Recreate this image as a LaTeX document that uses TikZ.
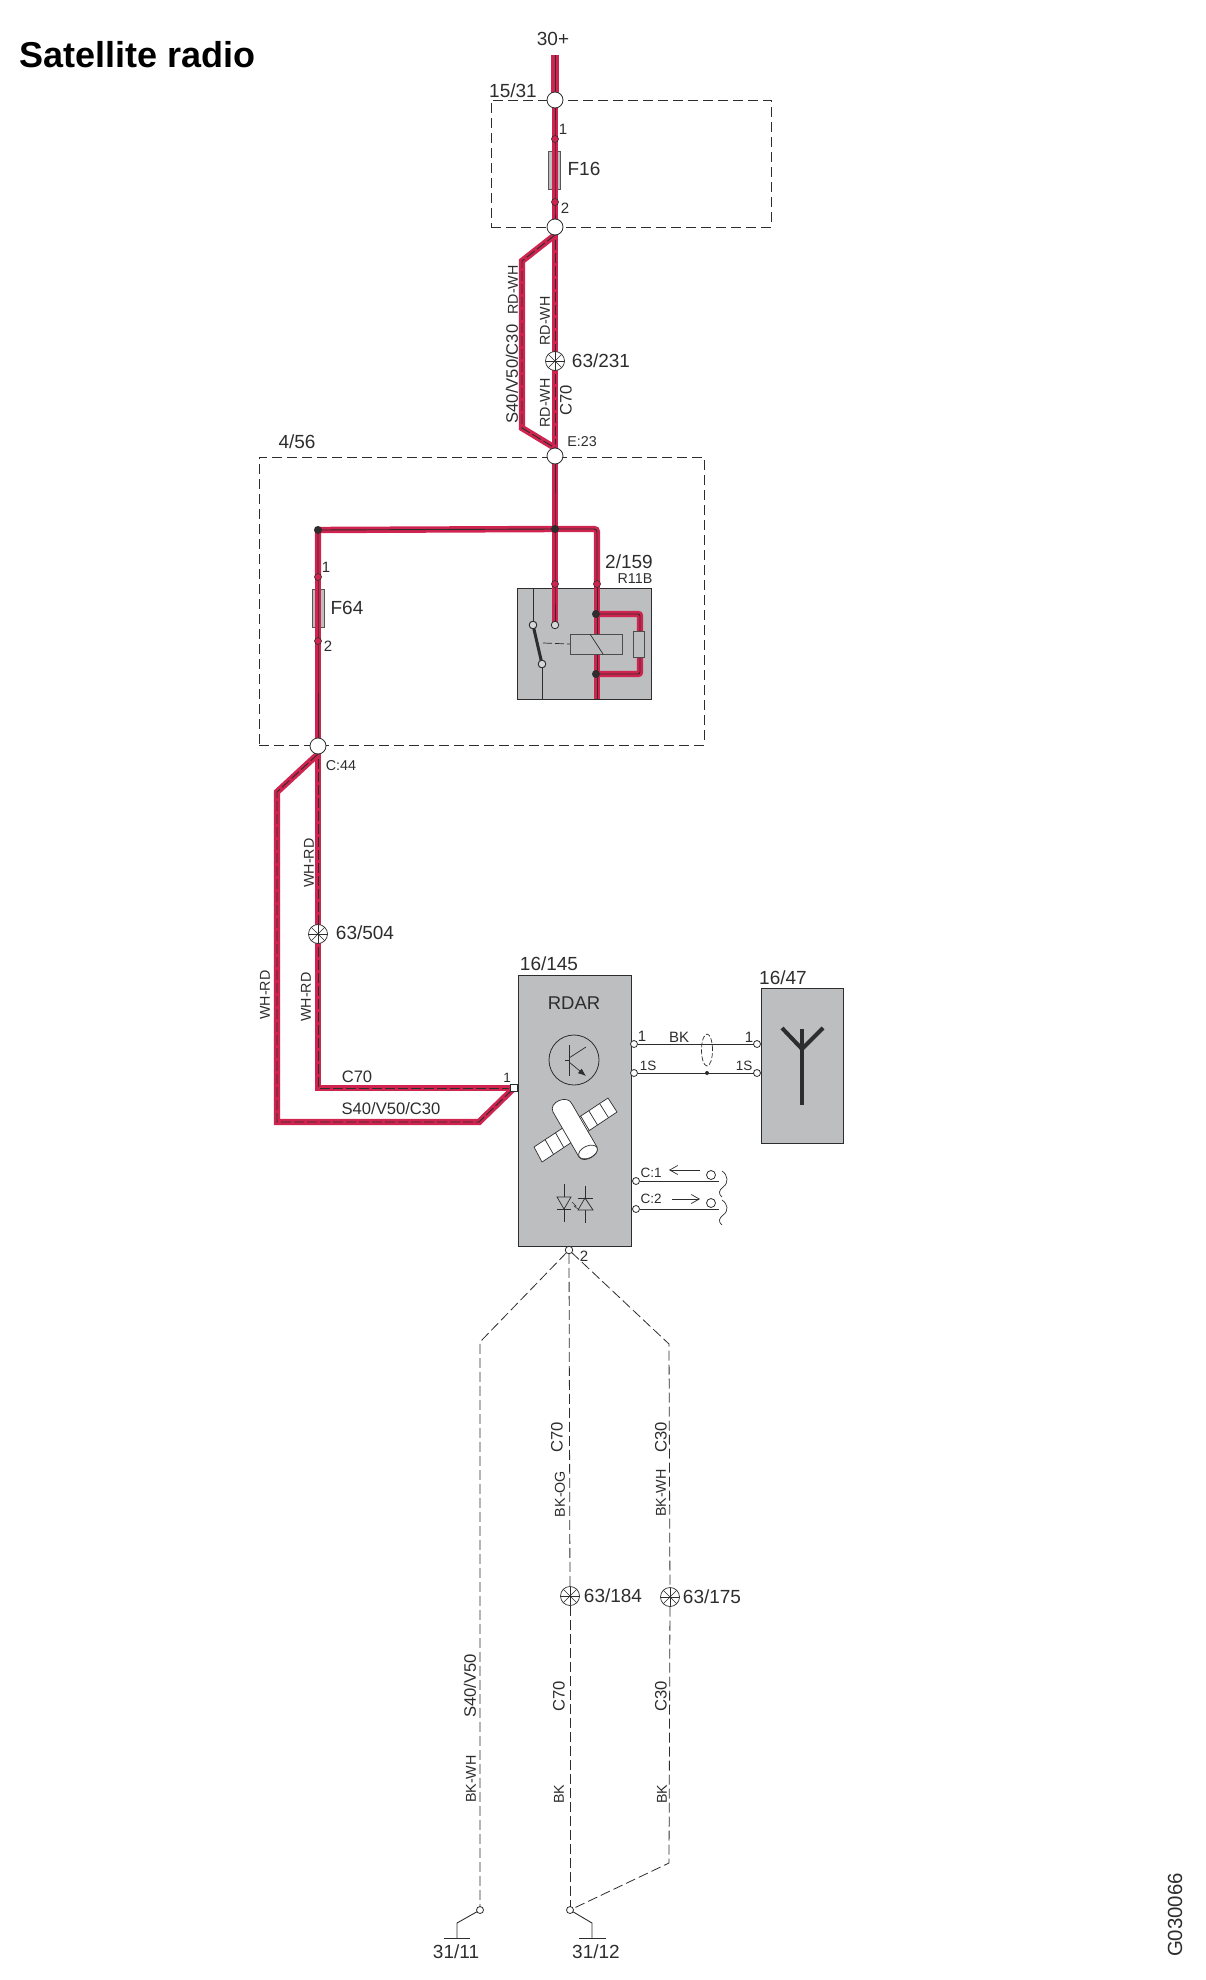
\documentclass[tikz,border=0pt]{standalone}
\usepackage{fontspec}
\setmainfont{Liberation Sans}
\usetikzlibrary{arrows.meta,shapes.geometric}
\definecolor{wirered}{RGB}{208,36,80}
\definecolor{ink}{RGB}{45,45,45}
\definecolor{boxgray}{RGB}{189,190,192}
\pgfdeclarelayer{bg}\pgfdeclarelayer{mid}
\pgfsetlayers{bg,mid,main}
\tikzset{
  every node/.style={inner sep=0pt,outer sep=0pt,text=ink},
  big/.style={font=\fontsize{19}{19}\selectfont},
  small/.style={font=\fontsize{14.3}{14}\selectfont},
  mid/.style={font=\fontsize{16.6}{17}\selectfont},
  pinlbl/.style={font=\fontsize{13.5}{14}\selectfont},
  pindig/.style={font=\fontsize{15}{15}\selectfont},
  dashbox/.style={draw=ink,line width=0.8pt,dash pattern=on 10pt off 5pt,rectangle},
  graybox/.style={draw=ink,line width=0.9pt,fill=boxgray,rectangle},
  fuse/.style={draw=ink!80,line width=0.8pt,fill=boxgray,rectangle,minimum width=12pt,minimum height=38pt},
  conn/.style={circle,draw=ink,line width=0.8pt,fill=white,minimum size=16pt},
  redpin/.style={circle,draw=ink,line width=0.6pt,fill=wirered,minimum size=7pt},
  opin/.style={circle,draw=ink,line width=0.8pt,fill=white,minimum size=7pt},
  relpin/.style={circle,draw=ink,line width=0.8pt,fill=boxgray!60,minimum size=7.5pt},
  junc/.style={circle,fill=ink,minimum size=8pt},
  sqpin/.style={rectangle,draw=ink,line width=0.6pt,fill=white,minimum size=7pt},
  splice/.style={circle,draw=ink,line width=0.7pt,fill=white,minimum size=19pt,path picture={
    \foreach \a in {0,45,90,135}
      \draw[ink,line width=0.55pt] (path picture bounding box.center) ++(\a:10pt) -- ++(\a+180:20pt);}},
  redsolid/.style={draw=ink,line width=0.9pt,line join=miter,preaction={draw=wirered,line width=6.4pt,solid}},
  redtop/.style={draw=ink,line width=0.9pt,preaction={draw=wirered,line width=7.2pt,solid}},
  reddash/.style={draw=ink,line width=0.9pt,line join=miter,dash pattern=on 10pt off 3pt,preaction={draw=wirered,line width=6.4pt,solid}},
  thin/.style={draw=ink,line width=0.9pt},
  gnddash/.style={draw=ink,line width=0.8pt,dash pattern=on 10pt off 4pt},
  sym/.style={draw=ink,line width=0.7pt},
}
\begin{document}
\begin{tikzpicture}[x=1pt,y=-1pt]
\useasboundingbox (0,0) rectangle (1206,1980);
% title
\node[font=\fontsize{36}{36}\selectfont\bfseries,anchor=west,text=black] (title) at (19,55) {Satellite radio};
\node[font=\fontsize{20.4}{20}\selectfont,rotate=90] (gcode) at (1175,1915) {G030066};

% ---------- boxes
\begin{pgfonlayer}{bg}
\node[dashbox,minimum width=280pt,minimum height=127pt] (box1531) at (631,163.5) {};
\node[dashbox,minimum width=445pt,minimum height=288pt] (box456) at (481.5,601) {};
\node[graybox,minimum width=134pt,minimum height=111pt] (relay) at (584,643.5) {};
\node[graybox,minimum width=113pt,minimum height=271pt] (rdar) at (574.5,1110.5) {};
\node[graybox,minimum width=82pt,minimum height=155pt] (ant) at (802,1065.5) {};
\node[fuse] (f16) at (554.5,170) {};
\node[fuse] (f64) at (318,608.5) {};
\end{pgfonlayer}

% ---------- connection points
\coordinate (top) at (555,55);
\node[conn] (c1531) at (555,100) {};
\node[conn] (c1531b) at (555,227) {};
\node[conn] (e23) at (555,456) {};
\node[conn] (c44) at (318,746) {};
\node[redpin] (p1a) at (555,139) {};
\node[redpin] (p1b) at (555,202) {};
\node[redpin] (p2a) at (318,577) {};
\node[redpin] (p2b) at (318,641) {};
\node[redpin] (p3a) at (555,584) {};
\node[redpin] (p3b) at (597,584) {};
\node[junc] (jL) at (318,530) {};
\node[junc] (jM) at (555,529) {};
\node[junc] (j1) at (596,614) {};
\node[junc] (j2) at (596,674) {};
\node[splice] (s231) at (555,361) {};
\node[splice] (s504) at (318,934) {};
\node[splice] (s184) at (570,1596) {};
\node[splice] (s175) at (670,1597) {};
\node[sqpin] (pin1) at (514,1088) {};
\coordinate (a1) at (522,261);
\coordinate (a2) at (522,428);
\coordinate (b1) at (277,792);
\coordinate (b2) at (277,1122);
\coordinate (b3) at (479,1122);
\coordinate (m1) at (318,1088);
\coordinate (rc) at (597,529);
\coordinate (rb) at (597,699);
\coordinate (l1) at (640,614);
\coordinate (l2) at (640,674);

% ---------- red wires
\begin{pgfonlayer}{mid}
\draw[redtop] (top) -- (c1531.center);
\draw[redsolid] (c1531.center) -- (p1a.center) -- (p1b.center) -- (c1531b.center);
\draw[reddash] (c1531b.center) -- (s231.center);
\draw[reddash] (s231.center) -- (e23.center);
\draw[reddash] (c1531b.south) -- (a1) -- (a2) -- (e23.north);
\draw[redsolid] (e23.center) -- (jM.center) -- (p3a.center) -- (555,625);
\draw[redsolid] (p2a.center) -- (jL.center) -- (jM.center);
\draw[redsolid,rounded corners=3pt] (jM.center) -- (rc) -- (p3b.center);
\draw[redsolid] (p3b.center) -- (rb);
\draw[redsolid] (p2a.center) -- (p2b.center) -- (c44.center);
\draw[redsolid,rounded corners=2pt] (j1.center) -- (l1) -- (l2) -- (j2.center);
\draw[reddash] (c44.center) -- (s504.center);
\draw[reddash] (s504.center) -- (m1) -- (pin1.center);
\draw[reddash] (c44.south) -- (b1) -- (b2) -- (b3) -- (pin1.center);
\end{pgfonlayer}

% ---------- labels upper part
\node[big] (l30) at (553,39) {30+};
\node[big] (l1531) at (513,91) {15/31};
\node[pindig] (lp1) at (563,129) {1};
\node[pindig] (lp2) at (565,208) {2};
\node[big] (lf16) at (584,169) {F16};
\node[small,rotate=90] (w1) at (513,290) {RD-WH};
\node[mid,rotate=90] (w2) at (512,374) {S40/V50/C30};
\node[small,rotate=90] (w3) at (545,321) {RD-WH};
\node[small,rotate=90] (w4) at (545,403) {RD-WH};
\node[mid,rotate=90] (w5) at (566,400) {C70};
\node[big] (l231) at (601,361) {63/231};
\node[small] (le23) at (582,442) {E:23};
\node[big] (l456) at (297,442) {4/56};
\node[pindig] (lp3) at (326,567) {1};
\node[pindig] (lp4) at (328,646) {2};
\node[big] (lf64) at (347,608) {F64};
\node[big] (l2159) at (629,562) {2/159};
\node[small] (lr11) at (635,579) {R11B};
\node[small] (lc44) at (341,766) {C:44};

% ---------- relay interior
\node[relpin] (r1) at (533,625) {};
\node[relpin] (r2) at (555,625) {};
\node[relpin] (r3) at (542,664) {};
\coordinate (r1t) at (533,588);
\coordinate (r3b) at (542,699);
\draw[sym] (r1t) -- (r1.north);
\draw[sym] (r3.south) -- (r3b);
\draw[ink,line width=3pt] (r1.center) -- (r3.center);
\node[relpin] at (r1) {};
\node[relpin] at (r3) {};
\node[rectangle,draw=ink!85,line width=0.9pt,fill=boxgray,minimum width=52pt,minimum height=20pt] (coil) at (596,644) {};
\draw[sym] (590,634) -- (603,654);
\draw[sym,dash pattern=on 9pt off 3pt] (543,643) -- (coil.west);
\node[rectangle,draw=ink!85,line width=0.8pt,fill=boxgray,minimum width=11pt,minimum height=26pt] (res) at (638.5,644) {};

% ---------- lower-left labels
\node[small,rotate=90] (w6) at (309,863) {WH-RD};
\node[small,rotate=90] (w7) at (306,997) {WH-RD};
\node[small,rotate=90] (w8) at (265,995) {WH-RD};
\node[big] (l504) at (365,933) {63/504};
\node[mid] (l70) at (357,1077) {C70};
\node[mid] (l40) at (391,1109) {S40/V50/C30};
\node[pinlbl] (lpin1) at (507,1078) {1};

% ---------- RDAR
\node[big] (l145) at (549,964) {16/145};
\node[big] (l47) at (783,978) {16/47};
\node[font=\fontsize{18.5}{19}\selectfont] (lrd) at (574,1003) {RDAR};
% transistor
\node[circle,draw=ink,line width=0.8pt,minimum size=50pt] (tr) at (574,1060) {};
\draw[sym] (569,1045) -- (569,1076);
\draw[sym] (565,1060) -- (569,1060);
\draw[sym] (569,1058) -- (586,1047);
\draw[sym,-{Latex[length=8pt,width=6pt]}] (569,1062) -- (586,1076);
% satellite
\draw[sym,fill=white,line join=round] (534,1147) -- (542,1162) -- (617,1112) -- (608,1098) -- cycle;
\draw[sym] (545,1139.5) -- (553.5,1154.4) (555.5,1132.8) -- (563.8,1147.5)
  (588.8,1110.7) -- (597.5,1125) (599.6,1103.5) -- (608.5,1117.6) (580.6,1116) -- (589.3,1130.5);
\draw[sym,fill=white] (553,1112) .. controls (548,1102) and (568,1094) .. (572,1104) -- (597,1147)
  .. controls (600,1155) and (584,1164) .. (579,1157) -- cycle;
\draw[sym,fill=white] (588,1152) ellipse [x radius=10pt,y radius=6pt,rotate=25];
% opto
\draw[sym] (564,1184) -- (564,1222) (585,1186) -- (585,1223);
\draw[sym,fill=boxgray] (557,1197) -- (571,1197) -- (564,1209) -- cycle;
\draw[sym] (557,1209) -- (571,1209);
\draw[sym,fill=boxgray] (578,1210) -- (593,1210) -- (585,1198) -- cycle;
\draw[sym] (578,1198) -- (593,1198);
\draw[sym,line width=0.5pt] (572,1202) -- (576,1206) -- (574,1206) -- (578,1209);
% right pins
\node[opin] (o1) at (634,1044) {};
\node[opin] (o2) at (634,1073) {};
\node[opin] (o3) at (757,1044) {};
\node[opin] (o4) at (757,1073) {};
\node[opin] (o5) at (636,1181) {};
\node[opin] (o6) at (636,1209) {};
\coordinate (c1e) at (719,1181);
\coordinate (c2e) at (719,1209);
\draw[thin] (o1) -- (o3);
\draw[thin] (o2) -- (o4);
\draw[thin] (o5) -- (c1e);
\draw[thin] (o6) -- (c2e);
\node[circle,draw=ink,line width=0.8pt,minimum size=9pt] (t1) at (711,1175) {};
\node[circle,draw=ink,line width=0.8pt,minimum size=9pt] (t2) at (711,1203) {};
\node[pindig] (lo1) at (642,1036) {1};
\node[font=\fontsize{15}{15}\selectfont] (lbk) at (679,1037) {BK};
\node[pindig] (lo3) at (749,1037) {1};
\node[pinlbl] (lo2) at (648,1066) {1S};
\node[pinlbl] (lo4) at (744,1066) {1S};
\node[pinlbl] (lc1) at (651,1173) {C:1};
\node[pinlbl] (lc2) at (651,1199) {C:2};
% shield
\node[circle,fill=ink,minimum size=4pt] (shd) at (707,1073) {};
\draw[sym,dash pattern=on 5pt off 2pt] (707,1050) ellipse [x radius=5.5pt,y radius=16pt];
% signal arrows
\draw[sym,-{Straight Barb[length=8pt,width=9pt]}] (700,1170) -- (669,1170);
\draw[sym,-{Straight Barb[length=8pt,width=9pt]}] (672,1199) -- (700,1199);
% braces
\draw[sym] (722,1171) .. controls (728,1175) and (729,1183) .. (723,1187) .. controls (719,1190) and (718,1194) .. (722,1197);
\draw[sym] (722,1200) .. controls (728,1204) and (729,1211) .. (723,1215) .. controls (719,1218) and (718,1222) .. (722,1225);
% antenna
\draw[ink,line width=4pt] (802,1029) -- (802,1105);
\draw[ink,line width=4pt,line join=miter] (782,1028) -- (802,1049) -- (823,1028);

% ---------- ground wires
\node[opin,minimum size=7.5pt] (g0) at (569,1250) {};
\node[pindig] (lg0) at (584,1256) {2};
\node[opin] (g1) at (480,1910) {};
\node[opin] (g2) at (570,1910) {};
\coordinate (ga) at (480,1342);
\coordinate (gc) at (669,1344);
\coordinate (gd) at (669,1863);
\coordinate (g1b) at (457,1923);
\coordinate (g1g) at (457,1938);
\coordinate (g2b) at (592,1923);
\coordinate (g2g) at (592,1938);
\draw[gnddash] (g0) -- (ga) -- (g1.north);
\draw[gnddash] (g0) -- (s184);
\draw[gnddash] (s184) -- (g2.north);
\draw[gnddash] (g0) -- (gc) -- (s175);
\draw[gnddash] (s175) -- (gd) -- (g2);
\draw[thin] (g1) -- (g1b) -- (g1g);
\draw[thin] (g2) -- (g2b) -- (g2g);
\draw[thin] (444,1938) -- (470,1938);
\draw[thin] (579,1938) -- (606,1938);
\node[big] (l3111) at (456,1952) {31/11};
\node[big] (l3112) at (596,1952) {31/12};
\node[big] (l184) at (613,1596) {63/184};
\node[big] (l175) at (712,1597) {63/175};
\node[mid,rotate=90] (w9) at (557,1437) {C70};
\node[small,rotate=90] (w10) at (560,1494) {BK-OG};
\node[mid,rotate=90] (w11) at (661,1437) {C30};
\node[small,rotate=90] (w12) at (661,1493) {BK-WH};
\node[mid,rotate=90] (w13) at (470,1686) {S40/V50};
\node[small,rotate=90] (w14) at (471,1779) {BK-WH};
\node[mid,rotate=90] (w15) at (559,1696) {C70};
\node[mid,rotate=90] (w16) at (661,1696) {C30};
\node[small,rotate=90] (w17) at (559,1794) {BK};
\node[small,rotate=90] (w18) at (662,1794) {BK};
\end{tikzpicture}
\end{document}
